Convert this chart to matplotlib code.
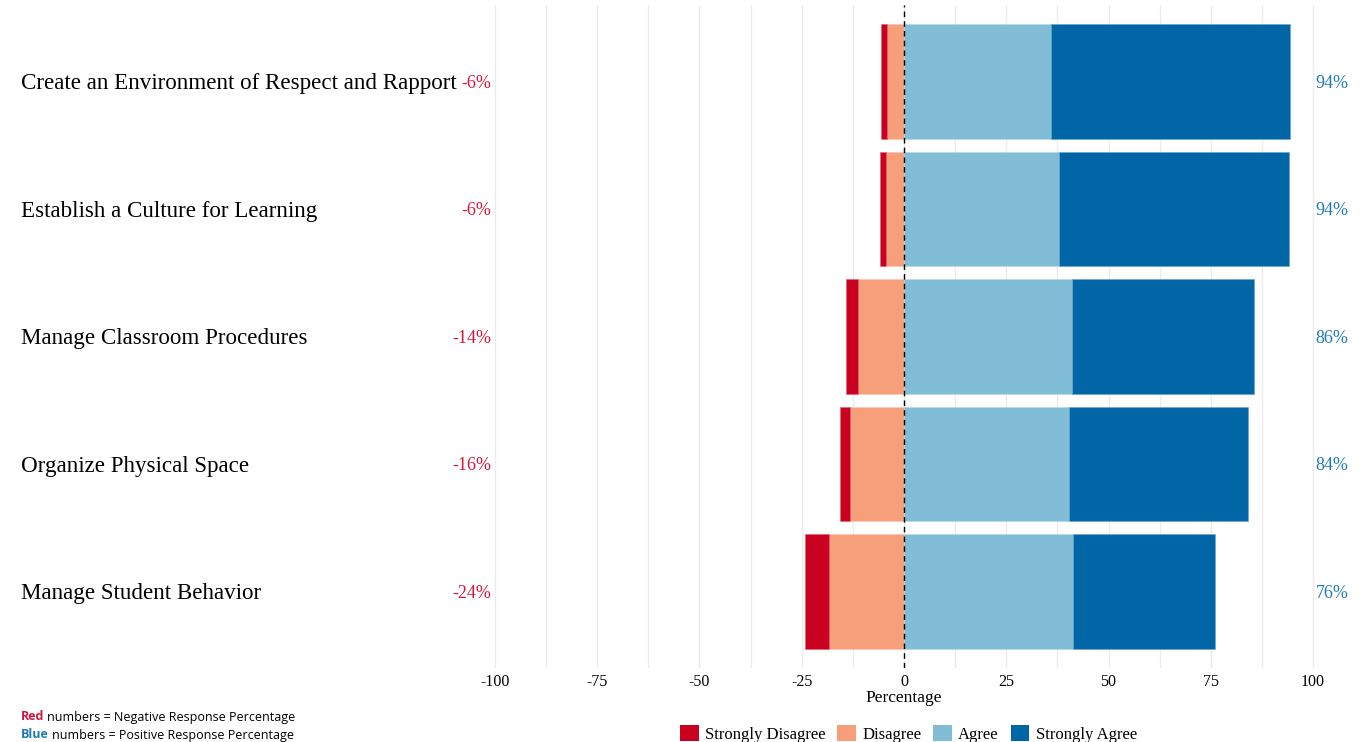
import matplotlib
matplotlib.use("Agg")
import matplotlib.pyplot as plt
import matplotlib.transforms as mtransforms
from matplotlib.patches import Patch
import numpy as np

# Data
items = [
    "Create an Environment of Respect and Rapport",
    "Establish a Culture for Learning",
    "Manage Classroom Procedures",
    "Organize Physical Space",
    "Manage Student Behavior",
]
strongly_disagree = [1.4, 1.5, 3.0, 2.5, 5.9]
disagree = [4.2, 4.4, 11.2, 13.1, 18.3]
agree = [36.0, 38.0, 41.1, 40.3, 41.2]
strongly_agree = [58.4, 56.1, 44.5, 43.8, 34.8]
neg_labels = ["-6%", "-6%", "-14%", "-16%", "-24%"]
pos_labels = ["94%", "94%", "86%", "84%", "76%"]
levels = ["Strongly Disagree", "Disagree", "Agree", "Strongly Agree"]

C_SD = "#CA0020"
C_D = "#F79E7B"
C_A = "#81BDD7"
C_SA = "#0066A5"
RED_TXT = "#D3163A"
BLUE_TXT = "#1F7BB6"

SERIF = ["Liberation Serif", "DejaVu Serif"]
plt.rcParams["font.family"] = SERIF

fig = plt.figure(figsize=(13.68, 7.42), dpi=100)
W, H = 1368, 742
# panel: x -110..110 -> px 454..1354 ; y 0.4..5.6 -> px 668..5
ax = fig.add_axes([454 / W, (H - 668) / H, 900 / W, 663 / H])

n = len(items)
y = np.arange(n, 0, -1)  # top item highest
sd = np.array(strongly_disagree)
d = np.array(disagree)
a = np.array(agree)
sa = np.array(strongly_agree)

bh = 0.9
kw = dict(height=bh, linewidth=0.4, zorder=3)
ax.barh(y, -d, left=0, color=C_D, edgecolor="#fbc7b3", **kw)
ax.barh(y, -sd, left=-d, color=C_SD, edgecolor="#e06070", **kw)
ax.barh(y, a, left=0, color=C_A, edgecolor="#b5d8e9", **kw)
ax.barh(y, sa, left=a, color=C_SA, edgecolor="#6aa3cc", **kw)

ax.axvline(0, color="black", linestyle=(0, (4, 3)), linewidth=1.0, zorder=4)

ax.set_xlim(-110, 110)
ax.set_ylim(0.4, n + 0.6)
ax.set_xticks([-100, -75, -50, -25, 0, 25, 50, 75, 100])
ax.set_xticklabels(["-100", "-75", "-50", "-25", "0", "25", "50", "75", "100"])
ax.set_xticks(np.arange(-87.5, 100, 25), minor=True)
ax.grid(axis="x", which="both", color="#ebebeb", linewidth=1.0, zorder=0)
ax.set_yticks([])
ax.tick_params(axis="x", which="both", length=0, labelsize=11.5, pad=4)
for s in ax.spines.values():
    s.set_visible(False)
ax.set_xlabel("Percentage", fontsize=12.5, labelpad=0)

# labels
for yi, nl, pl in zip(y, neg_labels, pos_labels):
    ax.text(-100.8, yi, nl, ha="right", va="center_baseline", color=RED_TXT, fontsize=13)
    ax.text(100.6, yi, pl, ha="left", va="center_baseline", color=BLUE_TXT, fontsize=13)

tr = mtransforms.blended_transform_factory(fig.transFigure, ax.transData)
for yi, name in zip(y, items):
    ax.text(21 / W, yi, name, transform=tr, ha="left", va="center_baseline",
            fontsize=16.6, color="black", clip_on=False)

# legend
handles = [Patch(facecolor=c, edgecolor="none") for c in (C_SD, C_D, C_A, C_SA)]
fig.legend(handles, levels, loc="center", bbox_to_anchor=(908.5 / W, 8 / H),
           ncol=4, frameon=False, fontsize=12, handlelength=1.1,
           handleheight=1.1, handletextpad=0.4, columnspacing=0.7,
           borderaxespad=0)

# note
SANS = ["Open Sans", "DejaVu Sans"]
t1 = fig.text(21 / W, (H - 717) / H, "Red", color=RED_TXT, fontsize=9,
              fontweight="bold", family=SANS, va="center")
ax.annotate("numbers = Negative Response Percentage", xy=(1, 0),
            xytext=(2, 0), textcoords="offset points",
            xycoords=t1, ha="left", va="bottom", fontsize=9, family=SANS)
t2 = fig.text(21 / W, (H - 735) / H, "Blue", color=BLUE_TXT, fontsize=9,
              fontweight="bold", family=SANS, va="center")
ax.annotate("numbers = Positive Response Percentage", xy=(1, 0),
            xytext=(2, 0), textcoords="offset points",
            xycoords=t2, ha="left", va="bottom", fontsize=9, family=SANS)

fig.savefig("out.png", dpi=100)
